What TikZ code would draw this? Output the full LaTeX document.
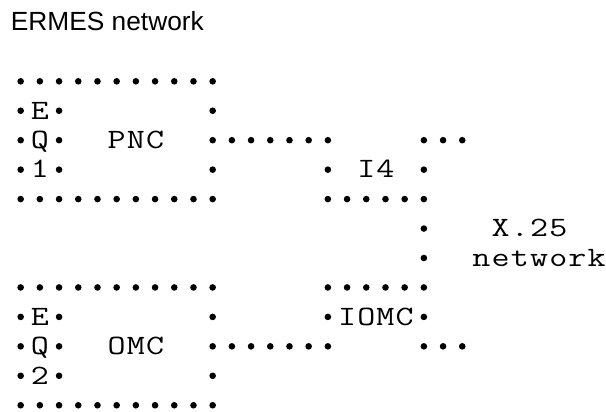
\documentclass[tikz,border=0pt]{standalone}
\usepackage{fontspec}
\setmainfont{Liberation Sans}
\newfontfamily\gridfont{Latin Modern Mono}

\tikzset{
  bead/.style={fill=black},
  glyph/.style={anchor=base, inner sep=0pt, outer sep=0pt, yshift=-8.3pt,
    font=\gridfont\fontsize{28}{28}\selectfont},
  heading/.style={anchor=base west, inner sep=0pt,
    font=\fontsize{26.3}{27}\selectfont},
}

% a run of bullets on one grid row, from column #2 to column #3
\newcommand\beadrun[3]{\foreach \c in {#2,...,#3} {\fill[bead] (\c,#1) circle[radius=3.3pt];}}
% a word set one character per grid cell, starting at column #3 of row #4
\newcommand\gridword[4]{%
  \foreach \ch [count=\i from 0] in {#2} {%
    \node[glyph] (#1-\i) at ({#3+\i},#4) {\scalebox{1.25}[1]{\ch}};}}

\begin{document}
\begin{tikzpicture}
\useasboundingbox (0,0) rectangle (606pt,-412pt);

\node[heading] (title) at (10.7pt,-30.7pt) {ERMES network};

\begin{scope}[shift={(20.67pt,-81.3pt)}, x=19.2pt, y=-29.45pt]
  % PNC block with its EQ1 strip
  \beadrun{0}{0}{10}
  \beadrun{1}{0}{0} \beadrun{1}{2}{2} \beadrun{1}{10}{10}
  \beadrun{2}{0}{0} \beadrun{2}{2}{2} \beadrun{2}{10}{16} \beadrun{2}{21}{23}
  \beadrun{3}{0}{0} \beadrun{3}{2}{2} \beadrun{3}{10}{10} \beadrun{3}{16}{16} \beadrun{3}{21}{21}
  \beadrun{4}{0}{10} \beadrun{4}{16}{21}
  % X.25 trunk
  \beadrun{5}{21}{21}
  \beadrun{6}{21}{21}
  % OMC block with its EQ2 strip
  \beadrun{7}{0}{10} \beadrun{7}{16}{21}
  \beadrun{8}{0}{0} \beadrun{8}{2}{2} \beadrun{8}{10}{10} \beadrun{8}{16}{16} \beadrun{8}{21}{21}
  \beadrun{9}{0}{0} \beadrun{9}{2}{2} \beadrun{9}{10}{16} \beadrun{9}{21}{23}
  \beadrun{10}{0}{0} \beadrun{10}{2}{2} \beadrun{10}{10}{10}
  \beadrun{11}{0}{10}

  % labels
  \node[glyph] (e1) at (1,1) {\scalebox{1.25}[1]{E}};
  \node[glyph] (q1) at (1,2) {\scalebox{1.25}[1]{Q}};
  \node[glyph] (n1) at (1,3) {\scalebox{1.25}[1]{1}};
  \gridword{pnc}{P,N,C}{5}{2}
  \gridword{ifour}{I,4}{18}{3}
  \gridword{xtf}{X,.,2,5}{25}{5}
  \gridword{net}{n,e,t,w,o,r,k}{24}{6}
  \node[glyph] (e2) at (1,8) {\scalebox{1.25}[1]{E}};
  \node[glyph] (q2) at (1,9) {\scalebox{1.25}[1]{Q}};
  \node[glyph] (n2) at (1,10) {\scalebox{1.25}[1]{2}};
  \gridword{iomc}{I,O,M,C}{17}{8}
  \gridword{omc}{O,M,C}{5}{9}
\end{scope}
\end{tikzpicture}
\end{document}
